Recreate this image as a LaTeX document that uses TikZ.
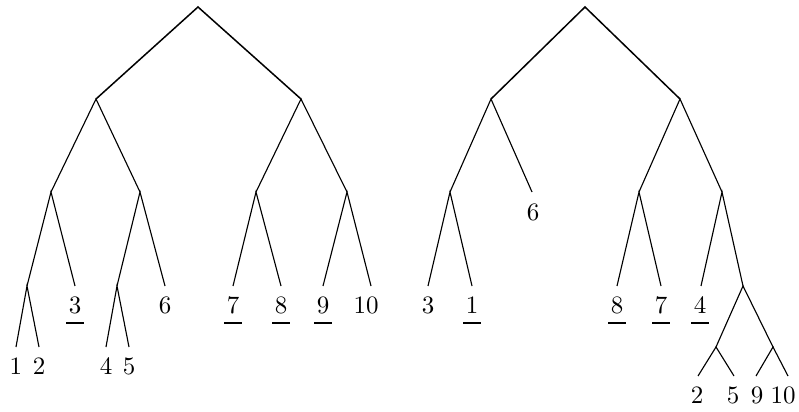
\documentclass[tikz,border=0pt]{standalone}
\begin{document}
\begin{tikzpicture}[x=0.4pt,y=-0.4pt,
  edge/.style={line width=0.45pt},
  top/.style={line width=0.6pt},
  lab/.style={anchor=base,inner sep=0pt},
  ul/.style={line width=0.5pt}]
\useasboundingbox (0,0) rectangle (799,412);
% ---------- left tree ----------
\coordinate (A) at (198,7);
\coordinate (A1) at (96,99);
\coordinate (A2) at (301,99);
\coordinate (A11) at (51,192);
\coordinate (A12) at (140,192);
\coordinate (A111) at (27,286);
\coordinate (e1) at (16,347);
\coordinate (e2) at (39,347);
\coordinate (e3) at (75,286);
\coordinate (A121) at (117,286);
\coordinate (e4) at (106,347);
\coordinate (e5) at (129,347);
\coordinate (e6) at (165,286);
\coordinate (A21) at (256,192);
\coordinate (e7) at (233,286);
\coordinate (e8) at (281,286);
\coordinate (A22) at (347,192);
\coordinate (e9) at (323,286);
\coordinate (e10) at (371,286);
\draw[top] (A1) -- (A) -- (A2);
\draw[edge] (A11) -- (A1) -- (A12);
\draw[edge] (A111) -- (A11) -- (e3);
\draw[edge] (e1) -- (A111) -- (e2);
\draw[edge] (A121) -- (A12) -- (e6);
\draw[edge] (e4) -- (A121) -- (e5);
\draw[edge] (A21) -- (A2) -- (A22);
\draw[edge] (e7) -- (A21) -- (e8);
\draw[edge] (e9) -- (A22) -- (e10);
\node[lab] (t1) at (16,374) {1};
\node[lab] (t2) at (39,374) {2};
\node[lab] (t3) at (75,313) {3};
\node[lab] (t4) at (106,374) {4};
\node[lab] (t5) at (129,374) {5};
\node[lab] (t6) at (165,313) {6};
\node[lab] (t7) at (233,313) {7};
\node[lab] (t8) at (281,313) {8};
\node[lab] (t9) at (323,313) {9};
\node[lab] (t10) at (366,313) {10};
\foreach \n in {t3,t7,t8,t9}
  \draw[ul] ([shift={(-3.6pt,-4pt)}]\n.base) -- ++(7.2pt,0pt);
% ---------- right tree ----------
\coordinate (B) at (585,7);
\coordinate (B1) at (491,99);
\coordinate (B2) at (680,99);
\coordinate (B11) at (450,192);
\coordinate (f6) at (532,192);
\coordinate (f3) at (428,286);
\coordinate (f1) at (472,286);
\coordinate (B21) at (639,192);
\coordinate (f8) at (617,286);
\coordinate (f7) at (661,286);
\coordinate (B22) at (722,192);
\coordinate (f4) at (701,286);
\coordinate (B222) at (743,286);
\coordinate (B2221) at (716,347);
\coordinate (B2222) at (773,347);
\coordinate (f2) at (698,376);
\coordinate (f5) at (734,376);
\coordinate (f9) at (756,376);
\coordinate (f10) at (788,376);
\draw[top] (B1) -- (B) -- (B2);
\draw[edge] (B11) -- (B1) -- (f6);
\draw[edge] (f3) -- (B11) -- (f1);
\draw[edge] (B21) -- (B2) -- (B22);
\draw[edge] (f8) -- (B21) -- (f7);
\draw[edge] (f4) -- (B22) -- (B222);
\draw[edge] (B2221) -- (B222) -- (B2222);
\draw[edge] (f2) -- (B2221) -- (f5);
\draw[edge] (f9) -- (B2222) -- (f10);
\node[lab] (u6) at (533,221) {6};
\node[lab] (u3) at (428,313) {3};
\node[lab] (u1) at (472,313) {1};
\node[lab] (u8) at (617,313) {8};
\node[lab] (u7) at (661,313) {7};
\node[lab] (u4) at (700,313) {4};
\node[lab] (u2) at (697,403) {2};
\node[lab] (u5) at (733,403) {5};
\node[lab] (u9) at (757,403) {9};
\node[lab] (u10) at (783,403) {10};
\foreach \n in {u1,u8,u7,u4}
  \draw[ul] ([shift={(-3.6pt,-4pt)}]\n.base) -- ++(7.2pt,0pt);
\end{tikzpicture}
\end{document}
